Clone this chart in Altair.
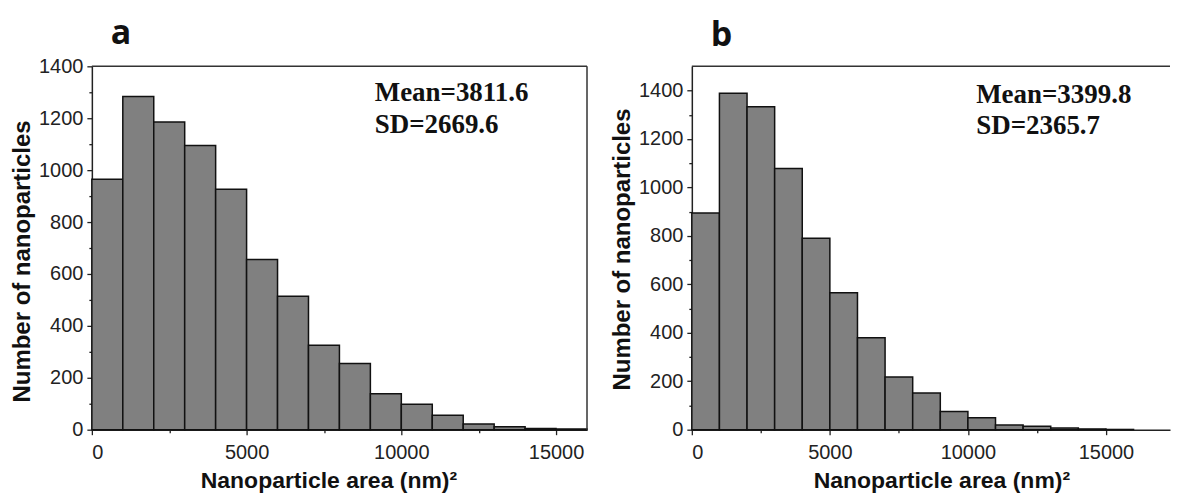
import altair as alt
import pandas as pd

BIN = 1000

# Panel a: histogram counts per 1000 nm^2 bin, starting at 0
a_counts = [965, 1284, 1185, 1095, 926, 656, 514, 325, 255, 138, 98, 56, 22, 11, 5, 3]
# Panel b
b_counts = [894, 1389, 1333, 1078, 790, 565, 380, 218, 151, 75, 49, 19, 14, 7, 3, 1]

a_stats = ["Mean=3811.6", "SD=2669.6"]
b_stats = ["Mean=3399.8", "SD=2365.7"]
a_stat_x = [9140, 9140]
a_stat_y = [1266, 1145]
b_stat_x = [10300, 10300]
b_stat_y = [1350, 1221]

x_major = [0, 5000, 10000, 15000]
x_minor = [2500, 7500, 12500]
y_major = [0, 200, 400, 600, 800, 1000, 1200, 1400]
y_minor = [100, 300, 500, 700, 900, 1100, 1300]

X_TITLE = "Nanoparticle area (nm)²"
Y_TITLE = "Number of nanoparticles"

PLOT_H = 364


def panel(counts, xmax, ymax, width, stats, sx, sy, letter, title_offset,
          right_border, x_title_x, y_title_y):
    df = pd.DataFrame({"start": [i * BIN for i in range(len(counts))], "count": counts})
    df["end"] = df["start"] + BIN
    xs = alt.Scale(domain=[0, xmax], nice=False, zero=False)
    ys = alt.Scale(domain=[0, ymax], nice=False)

    bars = alt.Chart(df).mark_bar(
        fill="#808080", stroke="#111111", strokeWidth=1.5
    ).encode(
        x=alt.X("start:Q", scale=xs, axis=alt.Axis(
            values=x_major, title=X_TITLE, titleFontSize=23, titlePadding=7,
            titleX=x_title_x,
            tickSize=5, labelPadding=8, format="d", orient="bottom")),
        x2="end:Q",
        y=alt.Y("count:Q", scale=ys, axis=alt.Axis(
            values=y_major, title=Y_TITLE, titleFontSize=24, titlePadding=4,
            titleY=y_title_y,
            tickSize=5, labelPadding=4, format="d", orient="left")),
        y2=alt.datum(0),
    )

    minor = alt.Chart(df).mark_bar(opacity=0).encode(
        x=alt.X("start:Q", scale=xs, axis=alt.Axis(
            values=x_minor, labels=False, domain=False, tickSize=3, title="",
            orient="bottom")),
        x2="end:Q",
        y=alt.Y("count:Q", scale=ys, axis=alt.Axis(
            values=y_minor, labels=False, domain=False, tickSize=3, title="",
            orient="left")),
        y2=alt.datum(0),
    )

    sdf = pd.DataFrame({"label": stats, "x": sx, "y": sy})
    text = alt.Chart(sdf).mark_text(
        font="Liberation Serif", fontWeight="bold", fontSize=27,
        align="left", baseline="alphabetic", color="#111111"
    ).encode(
        x=alt.X("x:Q", scale=xs, axis=None),
        y=alt.Y("y:Q", scale=ys, axis=None),
        text="label:N",
    )

    one = pd.DataFrame({"k": [0]})
    top = alt.Chart(one).mark_rule(color="#333333", strokeWidth=1.5).encode(
        x=alt.value(0), x2=alt.value(width), y=alt.value(0))
    layers = [minor, bars, text, top]
    if right_border:
        right = alt.Chart(one).mark_rule(color="#333333", strokeWidth=1.5).encode(
            x=alt.value(width), y=alt.value(0), y2=alt.value(PLOT_H))
        layers.append(right)

    return alt.layer(*layers).resolve_axis(x="independent", y="independent").properties(
        width=width, height=PLOT_H,
        title=alt.TitleParams(text=letter, anchor="start", frame="group", dx=19,
                              fontSize=34, font="Open Sans", fontWeight="bold",
                              color="#111111", offset=title_offset),
    )


pa = panel(a_counts, 16000, 1400, 496, a_stats, a_stat_x, a_stat_y, "a", 5, True, 237, 195)
pb = panel(b_counts, 17320, 1500, 479, b_stats, b_stat_x, b_stat_y, "b", 13, False, 250, 183)

chart = alt.hconcat(pa, pb, spacing=22).properties(
    padding={"left": 2, "top": 9, "right": 0, "bottom": 0}
).configure_view(strokeWidth=0).configure_axis(
    domainColor="#222222", domainWidth=1.5, tickColor="#222222", tickWidth=1.3,
    labelFont="Liberation Sans", labelFontSize=20, labelColor="#222222",
    titleFont="Liberation Sans", titleFontWeight="bold", titleColor="#111111",
    grid=False,
)

chart.save("out.html", embed_options={"renderer": "svg", "actions": False})
